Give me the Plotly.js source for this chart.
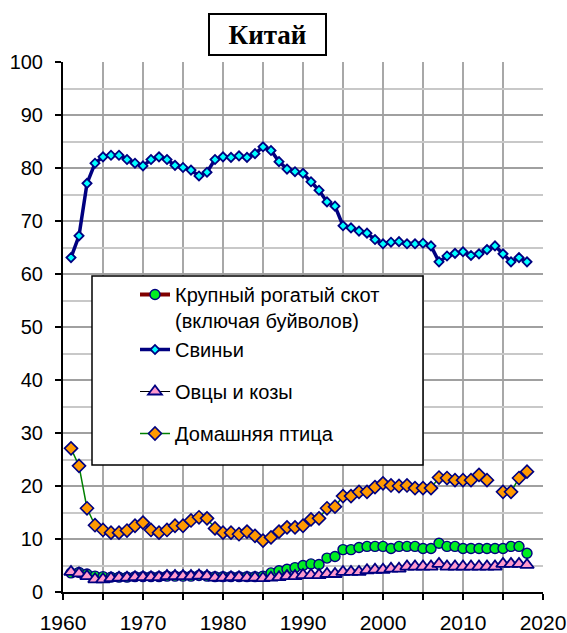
<!DOCTYPE html>
<html><head><meta charset="utf-8">
<script src="https://cdn.plot.ly/plotly-3.0.1.min.js"></script>
<style>html,body{margin:0;padding:0;background:#fff}</style>
</head><body><div id="chart" style="width:567px;height:633px"></div>
<script>
const years = [1961,1962,1963,1964,1965,1966,1967,1968,1969,1970,1971,1972,1973,1974,1975,1976,1977,1978,1979,1980,1981,1982,1983,1984,1985,1986,1987,1988,1989,1990,1991,1992,1993,1994,1995,1996,1997,1998,1999,2000,2001,2002,2003,2004,2005,2006,2007,2008,2009,2010,2011,2012,2013,2014,2015,2016,2017,2018];

const cattle = [3.6,3.7,3.4,3.0,2.9,2.8,2.8,2.8,2.9,2.9,2.9,2.9,3.0,3.0,3.0,3.0,3.1,3.0,2.9,2.9,2.9,2.9,2.9,2.9,3.0,3.6,4.0,4.3,4.6,5.0,5.3,5.2,6.4,6.7,8.0,8.0,8.4,8.6,8.6,8.6,8.2,8.6,8.6,8.6,8.2,8.2,9.2,8.6,8.6,8.2,8.2,8.2,8.2,8.2,8.2,8.6,8.6,7.3];

const pigs = [63.1,67.2,77.1,80.9,82.1,82.4,82.4,81.6,80.9,80.4,81.6,82.1,81.6,80.5,80.1,79.6,78.5,79.2,81.6,82.1,82.0,82.3,82.0,82.7,84.0,83.3,81.2,79.8,79.3,79.0,77.4,75.8,73.6,72.8,69.1,68.7,68.1,67.7,66.5,65.7,66.0,66.1,65.7,65.7,65.8,65.3,62.3,63.4,63.9,64.2,63.5,63.8,64.6,65.3,63.8,62.3,63.1,62.3];

const sheep = [3.8,3.5,3.0,2.4,2.4,2.6,2.7,2.7,2.8,2.8,2.8,2.8,3.0,3.0,3.0,3.0,3.1,3.0,2.7,2.7,2.8,2.8,2.7,2.7,2.6,2.7,2.8,3.0,3.0,3.2,3.2,3.2,3.4,3.4,3.8,3.8,3.8,4.1,4.2,4.2,4.4,4.4,4.8,4.8,4.8,4.8,5.3,4.8,4.8,4.8,4.8,4.8,4.8,4.8,5.3,5.3,5.3,5.1];

const poultry = [27.1,23.8,15.8,12.6,11.7,11.2,11.2,11.6,12.5,13.1,11.7,11.2,11.7,12.5,12.5,13.5,14.1,13.9,12.0,11.2,11.2,10.9,11.4,10.6,9.7,10.3,11.4,12.2,12.2,12.5,13.7,13.9,15.8,16.1,18.1,18.1,18.9,18.9,19.8,20.5,20.1,20.0,20.1,19.6,19.6,19.6,21.6,21.5,21.1,21.1,21.1,22.1,21.1,null,18.9,18.9,21.5,22.7];

const names = ['Крупный рогатый скот<br>(включая буйволов)', 'Свиньи', 'Овцы и козы', 'Домашняя птица'];
const titleText = 'Китай';
const xTicks = [1960,1970,1980,1990,2000,2010,2020];
const yTicks = [0,10,20,30,40,50,60,70,80,90,100];

const NAVY = '#000080';
const traces = [
  { x: years, y: cattle, mode: 'markers', showlegend: false, legendgroup: 'a',
    marker: {symbol: 'circle', size: 10, color: '#00ee22', line: {color: NAVY, width: 1.4}} },
  { x: [years[0]], y: [null], name: names[0], mode: 'lines+markers', legendgroup: 'a', legendrank: 1,
    line: {color: '#800000', width: 4},
    marker: {symbol: 'circle', size: 10, color: '#00ee22', line: {color: NAVY, width: 1.4}} },
  { x: years, y: pigs, name: names[1], mode: 'lines+markers', legendgroup: 'a', legendrank: 2,
    line: {color: NAVY, width: 3.5},
    marker: {symbol: 'diamond', size: 7, color: '#00ffff', line: {color: NAVY, width: 1.8}} },
  { x: years, y: sheep, name: names[2], mode: 'lines+markers', legendgroup: 'b', legendrank: 3,
    line: {color: '#000000', width: 1},
    marker: {symbol: 'triangle-up', size: 12, color: '#ff99cc', line: {color: NAVY, width: 1.8}} },
  { x: years, y: poultry, name: names[3], mode: 'lines+markers', legendgroup: 'c', legendrank: 4,
    connectgaps: false,
    line: {color: '#008000', width: 1.5},
    marker: {symbol: 'diamond', size: 10, color: '#ff9900', line: {color: NAVY, width: 1.6}} }
];

const L = 63, R = 543, T = 62, B = 592;
const px = v => (v - L) / (R - L);
const py = v => (B - v) / (B - T);

const layout = {
  width: 567, height: 633,
  margin: {l: L, r: 567 - R, t: T, b: 633 - B, pad: 0},
  paper_bgcolor: '#ffffff', plot_bgcolor: '#ffffff',
  font: {family: 'Liberation Sans, Arial, sans-serif', color: '#000'},
  xaxis: {
    range: [1960, 2020], tickvals: xTicks, ticktext: xTicks.map(String),
    showline: true, linecolor: '#000', linewidth: 2,
    ticks: 'outside', ticklen: 6, tickwidth: 2, tickcolor: '#000',
    showgrid: true, gridcolor: '#a8a8a8', gridwidth: 2,
    tickfont: {size: 21, family: 'Liberation Sans, Arial, sans-serif'},
    ticklabelstandoff: 5, ticklabeloverflow: 'allow',
    minor: {dtick: 5, tick0: 1960, ticks: 'outside', ticklen: 6, tickwidth: 2, tickcolor: '#000', showgrid: true, gridcolor: '#a8a8a8', gridwidth: 2},
    zeroline: false, fixedrange: true
  },
  yaxis: {
    range: [0, 100], tickvals: yTicks, ticktext: yTicks.map(String),
    showline: true, linecolor: '#000', linewidth: 2,
    ticks: 'outside', ticklen: 6, tickwidth: 2, tickcolor: '#000',
    showgrid: true, gridcolor: '#a0a0a0', gridwidth: 2,
    tickfont: {size: 20, family: 'Liberation Sans, Arial, sans-serif'},
    ticklabelstandoff: 8, ticklabeloverflow: 'allow',
    minor: {dtick: 5, tick0: 0, ticks: '', showgrid: true, gridcolor: '#c8c8c8', gridwidth: 2},
    zeroline: false, fixedrange: true
  },
  showlegend: true,
  legend: {
    x: px(135), y: py(275), xanchor: 'left', yanchor: 'top',
    bgcolor: 'rgba(0,0,0,0)', borderwidth: 0,
    font: {size: 20, family: 'Liberation Sans, Arial, sans-serif', color: '#000'},
    traceorder: 'grouped', tracegroupgap: 13, valign: 'top', itemwidth: 30
  },
  shapes: [
    {type: 'rect', xref: 'paper', yref: 'paper', x0: px(92), x1: px(423), y0: py(465), y1: py(276),
     line: {color: '#000', width: 1.5}, fillcolor: '#ffffff', layer: 'above'}
  ],
  annotations: [
    {text: '<b>' + titleText + '</b>', xref: 'paper', yref: 'paper', x: px(267.5), y: py(34.5),
     xanchor: 'center', yanchor: 'middle', showarrow: false,
     font: {family: 'Liberation Serif, Times New Roman, serif', size: 27, color: '#000'},
     bordercolor: '#000', borderwidth: 2, borderpad: 0, bgcolor: '#fff', width: 115, height: 39}
  ]
};

Plotly.newPlot('chart', traces, layout, {displayModeBar: false, staticPlot: true});
</script>
</body></html>
